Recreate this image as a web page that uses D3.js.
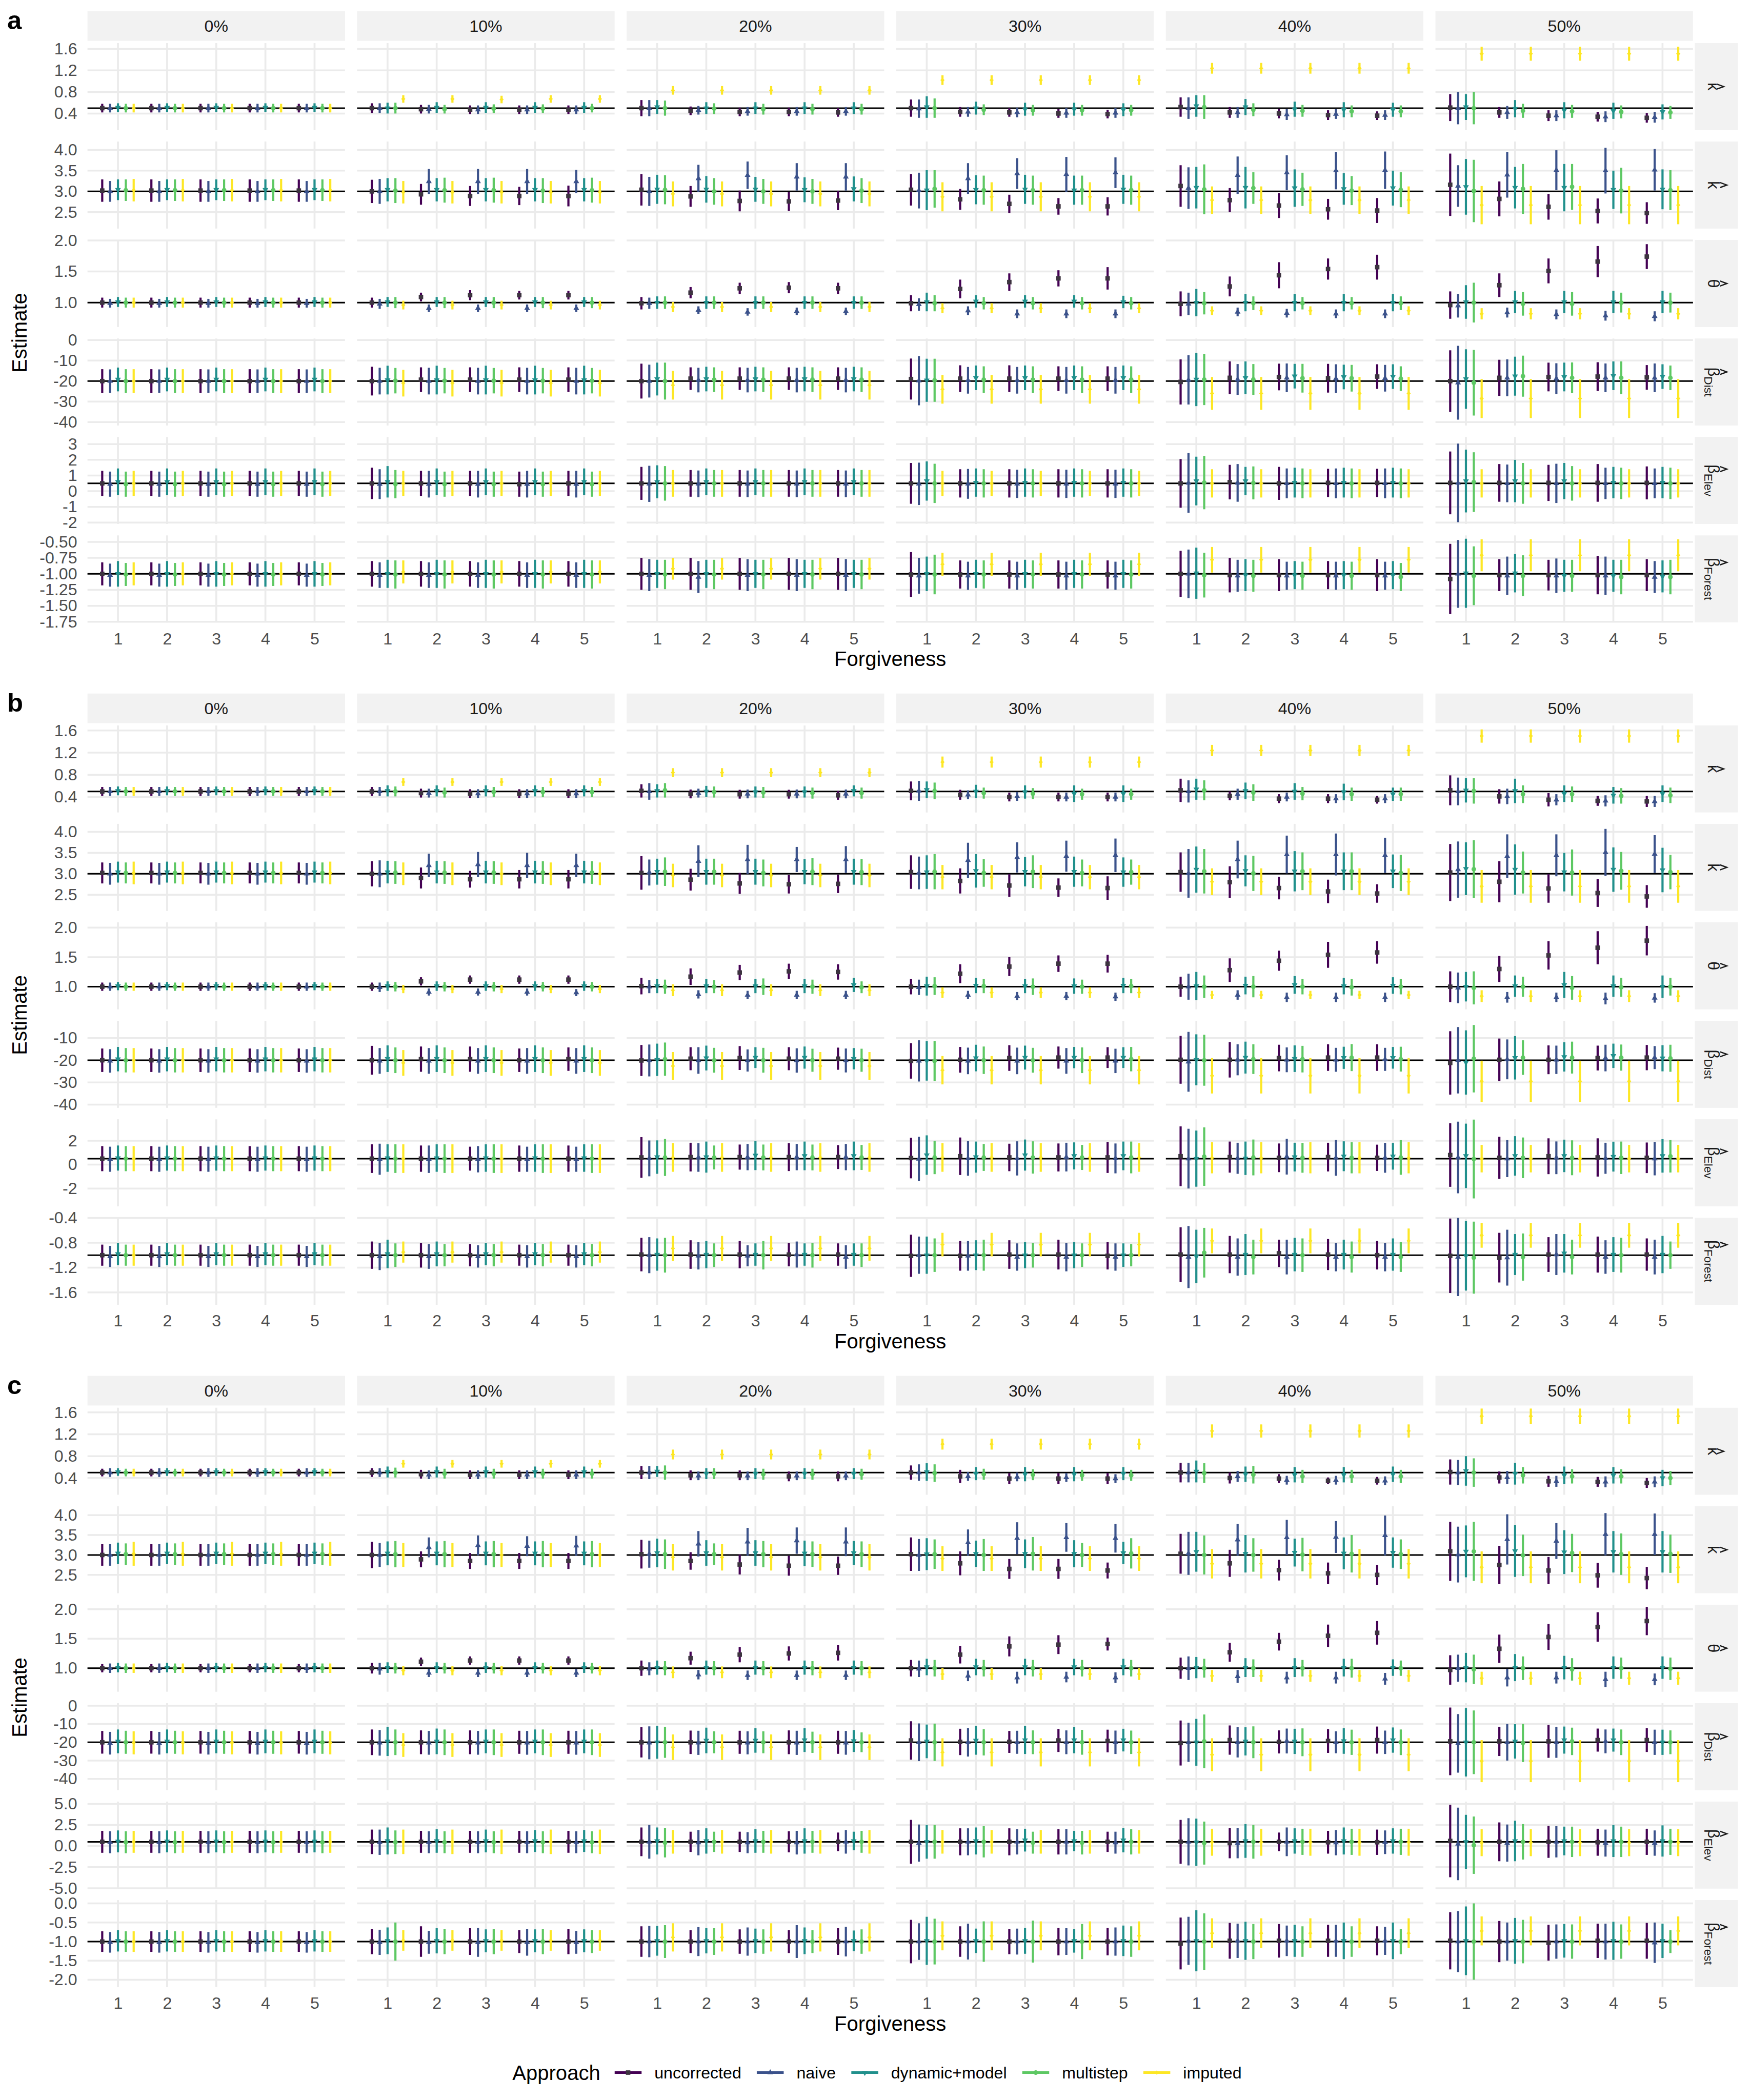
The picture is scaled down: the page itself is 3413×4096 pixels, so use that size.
<!DOCTYPE html>
<html>
<head>
<meta charset="utf-8">
<script src="https://cdn.jsdelivr.net/npm/d3@7"></script>
<style>
html,body{margin:0;padding:0;background:#ffffff;}
svg{display:block;}
</style>
</head>
<body>
<svg id="chart"></svg>
<script>
// ================= categories =================
const panelLabels = ["a", "b", "c"];
const missingLevels = ["0%", "10%", "20%", "30%", "40%", "50%"];
const forgivenessLevels = [1, 2, 3, 4, 5];
const approaches = ["uncorrected", "naive", "dynamic+model", "multistep", "imputed"];
const approachColors = ["#440154", "#3B528B", "#21908C", "#5DC863", "#FDE725"];
const paramSymbols = ["κ", "k", "θ", "β", "β", "β"];
const paramSubscripts = ["", "", "", "Dist", "Elev", "Forest"];
const trueValues = [0.5, 3, 1, -20, 0.5, -1];

// ================= axis limits and ticks (per panel, per parameter row) =================
const yLimits_a = [[0.092, 1.708], [2.106, 4.2], [0.607, 2.007], [-41.64, 0.77], [-2.086, 3.457], [-1.76, -0.399]];
const yLimits_b = [[0.121, 1.692], [2.115, 4.19], [0.616, 2.09], [-41.48, -2.2], [-3.49, 3.795], [-1.799, -0.397]];
const yLimits_c = [[0.094, 1.685], [2.04, 4.223], [0.601, 2.078], [-46.18, 1.4], [-5.05, 5.266], [-2.194, 0.088]];
const yTicks_a = [[0.4, 0.8, 1.2, 1.6], [2.5, 3, 3.5, 4], [1, 1.5, 2], [-40, -30, -20, -10, 0], [-2, -1, 0, 1, 2, 3], [-1.75, -1.5, -1.25, -1, -0.75, -0.5]];
const yTicks_b = [[0.4, 0.8, 1.2, 1.6], [2.5, 3, 3.5, 4], [1, 1.5, 2], [-40, -30, -20, -10], [-2, 0, 2], [-1.6, -1.2, -0.8, -0.4]];
const yTicks_c = [[0.4, 0.8, 1.2, 1.6], [2.5, 3, 3.5, 4], [1, 1.5, 2], [-40, -30, -20, -10, 0], [-5, -2.5, 0, 2.5, 5], [-2, -1.5, -1, -0.5, 0]];
const yTickLabels_a = [["0.4", "0.8", "1.2", "1.6"], ["2.5", "3.0", "3.5", "4.0"], ["1.0", "1.5", "2.0"], ["-40", "-30", "-20", "-10", "0"], ["-2", "-1", "0", "1", "2", "3"], ["-1.75", "-1.50", "-1.25", "-1.00", "-0.75", "-0.50"]];
const yTickLabels_b = [["0.4", "0.8", "1.2", "1.6"], ["2.5", "3.0", "3.5", "4.0"], ["1.0", "1.5", "2.0"], ["-40", "-30", "-20", "-10"], ["-2", "0", "2"], ["-1.6", "-1.2", "-0.8", "-0.4"]];
const yTickLabels_c = [["0.4", "0.8", "1.2", "1.6"], ["2.5", "3.0", "3.5", "4.0"], ["1.0", "1.5", "2.0"], ["-40", "-30", "-20", "-10", "0"], ["-5.0", "-2.5", "0.0", "2.5", "5.0"], ["-2.0", "-1.5", "-1.0", "-0.5", "0.0"]];

// ================= estimates / interval half-widths =================
// each: [approach][missing level 0..50%][forgiveness 1..5]
// ---------- panel a ----------
const a_kappa_est = [
[[0.5,0.5,0.5,0.5,0.5],[0.5,0.48,0.47,0.47,0.47],[0.5,0.45,0.43,0.43,0.42],[0.5,0.43,0.42,0.4,0.39],[0.52,0.42,0.4,0.37,0.36],[0.51,0.42,0.36,0.34,0.32]],
[[0.5,0.5,0.5,0.5,0.5],[0.5,0.48,0.47,0.47,0.47],[0.5,0.46,0.44,0.44,0.44],[0.49,0.43,0.42,0.41,0.41],[0.5,0.42,0.38,0.39,0.37],[0.5,0.42,0.36,0.34,0.33]],
[[0.51,0.51,0.51,0.51,0.51],[0.5,0.51,0.51,0.51,0.51],[0.52,0.5,0.5,0.5,0.5],[0.52,0.5,0.48,0.48,0.47],[0.54,0.52,0.48,0.47,0.47],[0.52,0.49,0.46,0.45,0.43]],
[[0.5,0.5,0.5,0.5,0.5],[0.5,0.48,0.49,0.49,0.5],[0.5,0.49,0.48,0.48,0.48],[0.5,0.47,0.46,0.46,0.46],[0.52,0.47,0.45,0.44,0.44],[0.5,0.45,0.44,0.43,0.42]],
[[0.5,0.5,0.5,0.5,0.5],[0.67,0.67,0.66,0.67,0.67],[0.83,0.83,0.83,0.83,0.83],[1.02,1.02,1.02,1.02,1.02],[1.24,1.24,1.24,1.24,1.24],[1.51,1.51,1.51,1.51,1.51]]];
const a_kappa_err = [
[[0.08,0.08,0.08,0.08,0.08],[0.09,0.08,0.08,0.08,0.08],[0.15,0.08,0.08,0.08,0.08],[0.16,0.09,0.08,0.08,0.08],[0.18,0.1,0.09,0.09,0.08],[0.25,0.1,0.1,0.09,0.09]],
[[0.08,0.08,0.08,0.08,0.08],[0.09,0.08,0.08,0.08,0.08],[0.15,0.08,0.08,0.08,0.08],[0.17,0.09,0.09,0.09,0.09],[0.2,0.1,0.1,0.09,0.09],[0.3,0.12,0.1,0.1,0.1]],
[[0.08,0.08,0.08,0.08,0.08],[0.1,0.1,0.1,0.1,0.1],[0.13,0.11,0.11,0.11,0.11],[0.2,0.12,0.12,0.12,0.12],[0.2,0.15,0.14,0.14,0.13],[0.24,0.16,0.15,0.15,0.14]],
[[0.08,0.08,0.08,0.08,0.08],[0.1,0.08,0.08,0.08,0.08],[0.14,0.1,0.1,0.1,0.1],[0.18,0.1,0.1,0.1,0.1],[0.22,0.12,0.11,0.11,0.11],[0.3,0.13,0.12,0.12,0.12]],
[[0.08,0.08,0.08,0.08,0.08],[0.07,0.07,0.07,0.07,0.07],[0.08,0.08,0.08,0.08,0.08],[0.09,0.09,0.09,0.09,0.09],[0.1,0.1,0.1,0.1,0.1],[0.13,0.13,0.13,0.13,0.13]]];
const a_k_est = [
[[3.02,3.02,3.02,3.02,3.02],[3,2.93,2.89,2.89,2.89],[3.04,2.88,2.77,2.76,2.78],[3.04,2.81,2.7,2.64,2.64],[3.13,2.79,2.66,2.57,2.54],[3.16,2.82,2.63,2.53,2.48]],
[[3,3,3,3,3],[3,3.24,3.24,3.24,3.24],[3,3.31,3.39,3.35,3.35],[3.02,3.31,3.43,3.41,3.45],[3.08,3.39,3.45,3.5,3.51],[3.13,3.4,3.51,3.5,3.52]],
[[3.04,3.04,3.04,3.04,3.04],[3.04,3.04,3.04,3.04,3.04],[3.05,3.05,3.05,3.04,3.06],[3.03,3.04,3.05,3.03,3.05],[3.09,3.09,3.08,3.06,3.08],[3.11,3.09,3.09,3.04,3.05]],
[[3.03,3.03,3.03,3.03,3.03],[3.02,3.03,3.03,3.02,3.03],[3.04,3,3,3,3.02],[3.06,3.03,3.03,3.03,3.03],[3.05,3.08,3.05,3.02,3.04],[3.01,3.06,3.11,3.02,3.03]],
[[3.03,3.03,3.03,3.03,3.03],[2.98,2.98,2.98,2.98,2.98],[2.94,2.94,2.94,2.94,2.94],[2.87,2.87,2.87,2.87,2.87],[2.79,2.79,2.79,2.79,2.79],[2.67,2.67,2.67,2.67,2.67]]];
const a_k_err = [
[[0.27,0.27,0.27,0.27,0.27],[0.28,0.25,0.24,0.22,0.25],[0.38,0.25,0.25,0.23,0.23],[0.38,0.25,0.22,0.2,0.22],[0.5,0.29,0.3,0.25,0.3],[0.75,0.42,0.31,0.3,0.26]],
[[0.25,0.25,0.25,0.25,0.25],[0.3,0.3,0.3,0.3,0.28],[0.35,0.33,0.33,0.33,0.33],[0.43,0.37,0.37,0.42,0.37],[0.5,0.45,0.42,0.45,0.45],[0.5,0.55,0.48,0.55,0.5]],
[[0.25,0.25,0.25,0.25,0.25],[0.28,0.28,0.28,0.28,0.28],[0.35,0.32,0.3,0.3,0.3],[0.48,0.35,0.35,0.35,0.35],[0.5,0.5,0.45,0.38,0.42],[0.67,0.5,0.57,0.46,0.48]],
[[0.26,0.26,0.26,0.26,0.26],[0.3,0.3,0.3,0.3,0.3],[0.35,0.32,0.3,0.3,0.3],[0.45,0.35,0.35,0.35,0.35],[0.6,0.38,0.4,0.35,0.42],[0.75,0.6,0.55,0.55,0.48]],
[[0.27,0.27,0.27,0.27,0.27],[0.27,0.27,0.27,0.27,0.27],[0.3,0.3,0.3,0.3,0.3],[0.35,0.35,0.35,0.35,0.35],[0.33,0.33,0.33,0.33,0.33],[0.46,0.46,0.46,0.46,0.46]]];
const a_theta_est = [
[[1,1,1,1,1],[1,1.09,1.12,1.12,1.12],[0.99,1.16,1.23,1.24,1.23],[0.99,1.22,1.33,1.39,1.39],[0.98,1.26,1.44,1.54,1.57],[0.96,1.28,1.51,1.66,1.74]],
[[0.99,0.99,0.99,0.99,0.99],[0.98,0.91,0.91,0.91,0.91],[0.99,0.88,0.85,0.86,0.86],[0.97,0.87,0.82,0.82,0.82],[0.98,0.85,0.83,0.82,0.82],[0.95,0.84,0.81,0.79,0.78]],
[[1.01,1.01,1.01,1.01,1.01],[1.01,1.01,1.01,1.01,1.01],[1,1,1,1,1],[1.01,1.02,1.02,1.02,1.01],[1,1,1,1,1],[1.01,1.01,1.01,1.01,1.01]],
[[1,1,1,1,1],[1,1,1,1,1],[1,1,1,1,1],[0.99,0.99,0.99,0.99,0.99],[0.99,0.99,0.99,0.99,0.99],[1,0.98,0.98,1,1]],
[[1,1,1,1,1],[0.96,0.96,0.96,0.96,0.96],[0.93,0.93,0.93,0.93,0.93],[0.91,0.91,0.91,0.91,0.91],[0.87,0.87,0.87,0.87,0.87],[0.82,0.82,0.82,0.82,0.82]]];
const a_theta_err = [
[[0.08,0.08,0.08,0.08,0.08],[0.08,0.07,0.08,0.07,0.07],[0.1,0.09,0.09,0.09,0.09],[0.13,0.15,0.14,0.13,0.18],[0.2,0.16,0.21,0.17,0.2],[0.22,0.19,0.2,0.25,0.2]],
[[0.07,0.07,0.07,0.07,0.07],[0.08,0.06,0.06,0.06,0.06],[0.09,0.06,0.06,0.06,0.06],[0.1,0.07,0.07,0.07,0.07],[0.18,0.07,0.07,0.07,0.07],[0.19,0.08,0.08,0.08,0.08]],
[[0.08,0.08,0.08,0.08,0.08],[0.08,0.08,0.08,0.08,0.08],[0.1,0.1,0.1,0.1,0.1],[0.15,0.1,0.1,0.1,0.1],[0.22,0.14,0.14,0.14,0.14],[0.27,0.18,0.18,0.18,0.18]],
[[0.08,0.08,0.08,0.08,0.08],[0.09,0.09,0.09,0.09,0.09],[0.1,0.1,0.1,0.1,0.1],[0.13,0.1,0.1,0.1,0.1],[0.18,0.11,0.1,0.1,0.11],[0.32,0.19,0.19,0.16,0.16]],
[[0.08,0.08,0.08,0.08,0.08],[0.07,0.07,0.07,0.07,0.07],[0.08,0.08,0.08,0.08,0.08],[0.08,0.08,0.08,0.08,0.08],[0.07,0.07,0.07,0.07,0.07],[0.09,0.09,0.09,0.09,0.09]]];
const a_dist_est = [
[[-20,-20,-20,-20,-20],[-20,-19.3,-19.3,-19.3,-19.3],[-20,-18.8,-18.8,-18.8,-18.8],[-19,-18.8,-18.8,-18.8,-18.8],[-20.4,-18.4,-18,-18.6,-17.8],[-20,-18.4,-18,-17.8,-18.2]],
[[-20,-20,-20,-20,-20],[-20,-20,-20,-20,-20],[-20,-19.5,-19.5,-19.5,-19.5],[-19.8,-19.6,-19.6,-19.6,-19.6],[-19.4,-19.2,-18.4,-18.8,-18.6],[-20.8,-18.4,-18.8,-18.4,-18.4]],
[[-19.2,-19.2,-19.2,-19.2,-19.2],[-19.5,-19.5,-19.5,-19.5,-19.5],[-19,-19,-19,-19,-19],[-19.6,-18.4,-18.4,-18.4,-18.4],[-19.2,-18.4,-17.6,-18,-17.8],[-19,-17.6,-18,-17.4,-17.8]],
[[-20,-20,-20,-20,-20],[-19.8,-19.8,-19.8,-19.8,-19.8],[-20,-19.3,-19.3,-19.3,-19.3],[-19.6,-19.3,-19.3,-19.3,-19.3],[-19.2,-19.2,-18.6,-18.6,-18.8],[-20.8,-17.6,-18.4,-18.4,-18.4]],
[[-20,-20,-20,-20,-20],[-21,-21,-21,-21,-21],[-22,-22,-22,-22,-22],[-24,-24,-24,-24,-24],[-26,-26,-26,-26,-26],[-28.5,-28.5,-28.5,-28.5,-28.5]]];
const a_dist_err = [
[[5.8,5.8,5.8,5.8,5.8],[7,6,6,6,6],[8.5,5.5,5.5,5.5,5.5],[10,6.5,6.5,6,6],[11,8,6.5,7,6],[15,8.8,7,7,6]],
[[5.7,5.7,5.7,5.7,5.7],[6.5,6.5,6.5,6.5,6.5],[8,6,6,6,6],[12,6.5,6.5,6.5,6.5],[12,7.5,7,7,6.5],[18,9,7.5,7,7]],
[[5.8,5.8,5.8,5.8,5.8],[7,7,7,7,7],[8,6,6,6,6],[10.5,6,6,6,6],[13,8,6,6,6],[14.5,9.5,7,7,6]],
[[5.8,5.8,5.8,5.8,5.8],[6.2,6.2,6.2,6.2,6.2],[9,6,6,6,6],[10.5,6.5,6.5,6.5,6.5],[12.5,7.5,7,6.5,6],[16,10,7.5,8,6]],
[[5.8,5.8,5.8,5.8,5.8],[6.5,6.5,6.5,6.5,6.5],[7,7,7,7,7],[7,7,7,7,7],[8,8,8,8,8],[9.5,9.5,9.5,9.5,9.5]]];
const a_elev_est = [
[[0.5,0.5,0.5,0.5,0.5],[0.5,0.5,0.5,0.45,0.5],[0.5,0.5,0.5,0.5,0.5],[0.5,0.5,0.5,0.5,0.5],[0.5,0.58,0.5,0.53,0.53],[0.53,0.53,0.53,0.53,0.53]],
[[0.45,0.45,0.45,0.45,0.45],[0.45,0.45,0.45,0.45,0.45],[0.47,0.47,0.47,0.47,0.47],[0.47,0.47,0.47,0.47,0.47],[0.53,0.53,0.5,0.5,0.5],[0.53,0.5,0.5,0.5,0.5]],
[[0.6,0.6,0.6,0.6,0.6],[0.6,0.6,0.6,0.6,0.6],[0.6,0.6,0.6,0.6,0.6],[0.65,0.55,0.55,0.55,0.55],[0.65,0.65,0.55,0.55,0.55],[0.65,0.65,0.65,0.55,0.55]],
[[0.45,0.45,0.45,0.45,0.45],[0.45,0.45,0.45,0.45,0.45],[0.5,0.5,0.5,0.5,0.5],[0.5,0.5,0.5,0.5,0.5],[0.55,0.53,0.5,0.5,0.5],[0.58,0.5,0.5,0.5,0.5]],
[[0.5,0.5,0.5,0.5,0.5],[0.5,0.5,0.5,0.5,0.5],[0.5,0.5,0.5,0.5,0.5],[0.5,0.5,0.5,0.5,0.5],[0.5,0.5,0.5,0.5,0.5],[0.5,0.5,0.5,0.5,0.5]]];
const a_elev_err = [
[[0.8,0.8,0.8,0.8,0.8],[1,0.8,0.8,0.8,0.8],[1.05,0.85,0.85,0.85,0.85],[1.3,0.9,0.9,0.9,0.9],[1.55,1.1,1.05,0.9,0.9],[2,1.2,1.15,1.2,1.05]],
[[0.8,0.8,0.8,0.8,0.8],[0.95,0.85,0.85,0.85,0.85],[1.15,0.85,0.85,0.85,0.85],[1.35,0.95,0.9,0.9,0.9],[1.9,1.2,0.95,0.95,0.95],[2.5,1.2,1.25,1,0.95]],
[[0.85,0.85,0.85,0.85,0.85],[1,0.85,0.85,0.85,0.85],[1.05,0.85,0.85,0.85,0.85],[1.25,0.9,0.9,0.9,0.9],[1.55,0.9,0.95,0.95,0.95],[2,1.35,1.15,1,1]],
[[0.8,0.8,0.8,0.8,0.8],[0.9,0.8,0.8,0.8,0.8],[1.1,0.85,0.85,0.85,0.85],[1.25,0.9,0.9,0.9,0.9],[1.7,1.05,0.95,0.95,0.95],[1.9,1.3,1.1,1,1]],
[[0.8,0.8,0.8,0.8,0.8],[0.8,0.8,0.8,0.8,0.8],[0.85,0.85,0.85,0.85,0.85],[0.8,0.8,0.8,0.8,0.8],[0.9,0.9,0.9,0.9,0.9],[0.9,0.9,0.9,0.9,0.9]]];
const a_forest_est = [
[[-1,-1,-1,-1,-1],[-1,-1,-1,-1,-1],[-1,-1,-1,-1,-1],[-1.01,-1.01,-1.01,-1.01,-1.01],[-1,-1.02,-1.02,-1.02,-1.02],[-1.08,-1.02,-1.02,-1.02,-1.02]],
[[-1.02,-1.02,-1.02,-1.02,-1.02],[-1.02,-1.02,-1.02,-1.02,-1.02],[-1.02,-1.05,-1.02,-1.02,-1.02],[-1.03,-1.03,-1.03,-1.03,-1.03],[-1,-1.03,-1.03,-1.03,-1.03],[-1,-1.03,-1.03,-1.03,-1.05]],
[[-1,-1,-1,-1,-1],[-1,-1,-1,-1,-1],[-1,-1,-1,-1,-1],[-1,-1,-1,-1,-1],[-0.99,-1.02,-1.02,-1.02,-1.02],[-0.99,-0.99,-1.03,-1.03,-1.04]],
[[-1.01,-1.01,-1.01,-1.01,-1.01],[-1.01,-1.01,-1.01,-1.01,-1.01],[-1.01,-1.01,-1.01,-1.01,-1.01],[-1.01,-1.01,-1.01,-1.01,-1.01],[-1.02,-1.03,-1.03,-1.03,-1.05],[-1.03,-1.03,-1.03,-1.05,-1.05]],
[[-1,-1,-1,-1,-1],[-0.97,-0.97,-0.97,-0.97,-0.97],[-0.92,-0.92,-0.92,-0.92,-0.92],[-0.85,-0.85,-0.85,-0.85,-0.85],[-0.78,-0.78,-0.78,-0.78,-0.78],[-0.71,-0.71,-0.71,-0.71,-0.71]]];
const a_forest_err = [
[[0.18,0.18,0.18,0.18,0.18],[0.2,0.2,0.2,0.2,0.2],[0.25,0.25,0.25,0.25,0.25],[0.35,0.22,0.22,0.22,0.22],[0.36,0.27,0.25,0.22,0.25],[0.55,0.25,0.24,0.3,0.25]],
[[0.18,0.18,0.18,0.18,0.18],[0.2,0.2,0.2,0.2,0.2],[0.25,0.25,0.25,0.25,0.25],[0.28,0.22,0.22,0.22,0.22],[0.38,0.25,0.22,0.22,0.22],[0.53,0.3,0.27,0.3,0.25]],
[[0.2,0.2,0.2,0.2,0.2],[0.22,0.22,0.22,0.22,0.22],[0.22,0.22,0.22,0.22,0.22],[0.27,0.22,0.22,0.22,0.22],[0.4,0.25,0.22,0.22,0.22],[0.54,0.3,0.25,0.25,0.25]],
[[0.18,0.18,0.18,0.18,0.18],[0.22,0.22,0.22,0.22,0.22],[0.23,0.23,0.23,0.23,0.23],[0.31,0.22,0.22,0.22,0.22],[0.35,0.25,0.22,0.22,0.22],[0.46,0.32,0.25,0.27,0.27]],
[[0.18,0.18,0.18,0.18,0.18],[0.18,0.18,0.18,0.18,0.18],[0.17,0.17,0.17,0.17,0.17],[0.18,0.18,0.18,0.18,0.18],[0.2,0.2,0.2,0.2,0.2],[0.25,0.25,0.25,0.25,0.25]]];

// ---------- panel b ----------
const b_kappa_est = [
[[0.5,0.5,0.5,0.5,0.5],[0.5,0.47,0.46,0.46,0.46],[0.51,0.455,0.45,0.45,0.43],[0.51,0.44,0.4,0.4,0.4],[0.52,0.42,0.37,0.37,0.35],[0.52,0.41,0.35,0.33,0.32]],
[[0.5,0.5,0.5,0.5,0.5],[0.5,0.47,0.46,0.46,0.46],[0.5,0.47,0.455,0.455,0.455],[0.51,0.44,0.41,0.4,0.4],[0.5,0.45,0.4,0.37,0.37],[0.5,0.41,0.35,0.33,0.32]],
[[0.51,0.51,0.51,0.51,0.51],[0.51,0.51,0.51,0.51,0.51],[0.51,0.5,0.49,0.49,0.51],[0.53,0.5,0.49,0.46,0.46],[0.54,0.51,0.5,0.49,0.45],[0.52,0.51,0.46,0.43,0.46]],
[[0.5,0.5,0.5,0.5,0.5],[0.5,0.48,0.49,0.49,0.49],[0.52,0.49,0.48,0.47,0.47],[0.51,0.47,0.46,0.45,0.45],[0.52,0.48,0.46,0.45,0.45],[0.51,0.45,0.45,0.42,0.43]],
[[0.5,0.5,0.5,0.5,0.5],[0.67,0.67,0.67,0.67,0.67],[0.84,0.84,0.84,0.84,0.84],[1.03,1.03,1.03,1.03,1.03],[1.24,1.24,1.24,1.24,1.24],[1.5,1.5,1.5,1.5,1.5]]];
const b_kappa_err = [
[[0.08,0.08,0.08,0.08,0.08],[0.08,0.08,0.08,0.08,0.08],[0.12,0.08,0.08,0.08,0.08],[0.17,0.09,0.08,0.08,0.08],[0.21,0.08,0.08,0.08,0.07],[0.27,0.13,0.12,0.09,0.1]],
[[0.08,0.08,0.08,0.08,0.08],[0.08,0.08,0.08,0.08,0.08],[0.15,0.08,0.08,0.08,0.08],[0.18,0.08,0.08,0.08,0.08],[0.2,0.1,0.08,0.08,0.08],[0.25,0.14,0.1,0.1,0.1]],
[[0.08,0.08,0.08,0.08,0.08],[0.1,0.1,0.1,0.1,0.1],[0.12,0.1,0.1,0.1,0.1],[0.15,0.12,0.12,0.15,0.15],[0.19,0.15,0.15,0.15,0.12],[0.22,0.22,0.15,0.15,0.15]],
[[0.08,0.08,0.08,0.08,0.08],[0.09,0.09,0.09,0.09,0.09],[0.13,0.1,0.1,0.1,0.1],[0.15,0.1,0.1,0.1,0.1],[0.18,0.15,0.12,0.12,0.12],[0.23,0.16,0.14,0.14,0.14]],
[[0.08,0.08,0.08,0.08,0.08],[0.07,0.07,0.07,0.07,0.07],[0.08,0.08,0.08,0.08,0.08],[0.1,0.1,0.1,0.1,0.1],[0.1,0.1,0.1,0.1,0.1],[0.12,0.12,0.12,0.12,0.12]]];
const b_k_est = [
[[3.02,3.02,3.02,3.02,3.02],[3,2.9,2.87,2.87,2.87],[3.02,2.86,2.77,2.75,2.76],[3.04,2.83,2.72,2.67,2.66],[3.04,2.8,2.66,2.58,2.53],[3.03,2.81,2.65,2.54,2.46]],
[[3,3,3,3,3],[3,3.2,3.22,3.2,3.2],[3.03,3.3,3.34,3.34,3.34],[3.02,3.32,3.39,3.42,3.44],[3.01,3.34,3.46,3.46,3.44],[3.1,3.42,3.44,3.51,3.47]],
[[3.04,3.04,3.04,3.04,3.04],[3.04,3.04,3.04,3.04,3.04],[3.05,3.05,3.05,3.05,3.05],[3.04,3.07,3.05,3.05,3.04],[3.1,3.07,3.06,3.06,3.06],[3.12,3.1,3.04,3.1,3.09]],
[[3.02,3.02,3.02,3.02,3.02],[3.03,3.03,3.03,3.03,3.03],[3.05,3.05,3.02,3.05,3.04],[3.05,3.02,3.05,3.02,3.04],[3.06,3.01,3.06,3.06,3.02],[3.11,3.03,3.03,3.07,3.04]],
[[3.02,3.02,3.02,3.02,3.02],[3,3,3,3,3],[2.96,2.96,2.96,2.96,2.96],[2.92,2.92,2.92,2.92,2.92],[2.81,2.81,2.81,2.81,2.81],[2.7,2.7,2.7,2.7,2.7]]];
const b_k_err = [
[[0.25,0.25,0.25,0.25,0.25],[0.3,0.25,0.2,0.22,0.22],[0.4,0.26,0.25,0.22,0.22],[0.4,0.3,0.27,0.22,0.28],[0.47,0.38,0.27,0.28,0.22],[0.68,0.49,0.34,0.33,0.27]],
[[0.26,0.26,0.26,0.26,0.26],[0.32,0.28,0.3,0.3,0.28],[0.31,0.38,0.35,0.3,0.32],[0.39,0.42,0.36,0.37,0.4],[0.58,0.45,0.45,0.5,0.42],[0.67,0.52,0.5,0.56,0.45]],
[[0.25,0.25,0.25,0.25,0.25],[0.27,0.27,0.27,0.27,0.27],[0.31,0.31,0.31,0.3,0.31],[0.4,0.4,0.35,0.36,0.35],[0.55,0.37,0.48,0.45,0.4],[0.63,0.6,0.46,0.53,0.53]],
[[0.25,0.25,0.25,0.25,0.25],[0.27,0.27,0.27,0.27,0.27],[0.34,0.31,0.32,0.32,0.31],[0.42,0.33,0.39,0.32,0.3],[0.53,0.42,0.45,0.45,0.43],[0.69,0.5,0.55,0.45,0.41]],
[[0.27,0.27,0.27,0.27,0.27],[0.27,0.27,0.27,0.27,0.27],[0.28,0.28,0.28,0.28,0.28],[0.29,0.29,0.29,0.29,0.29],[0.32,0.32,0.32,0.32,0.32],[0.39,0.39,0.39,0.39,0.39]]];
const b_theta_est = [
[[1,1,1,1,1],[1,1.09,1.12,1.12,1.12],[1.01,1.17,1.24,1.26,1.25],[1,1.22,1.34,1.39,1.39],[1,1.28,1.44,1.54,1.58],[1,1.3,1.53,1.66,1.78]],
[[1,1,1,1,1],[0.99,0.91,0.91,0.91,0.9],[1,0.87,0.86,0.86,0.86],[0.99,0.86,0.84,0.84,0.83],[1,0.86,0.82,0.82,0.82],[0.98,0.82,0.82,0.8,0.81]],
[[1.01,1.01,1.01,1.01,1.01],[1.01,1.01,1.01,1.01,1.01],[1.01,1.01,1.01,1.01,1.03],[1.01,1.02,1.01,1.01,1.02],[1.01,1.02,1.03,1.01,1.02],[1,1.01,1.03,1.01,1]],
[[1,1,1,1,1],[1,1,1,1,1],[1,1,1,1,0.99],[1.01,1.01,1,1,1.01],[1,1,1,0.99,1],[0.98,1,0.98,0.99,1]],
[[1,1,1,1,1],[0.96,0.96,0.96,0.96,0.96],[0.94,0.94,0.94,0.94,0.94],[0.9,0.9,0.9,0.9,0.9],[0.86,0.86,0.86,0.86,0.86],[0.84,0.84,0.84,0.84,0.84]]];
const b_theta_err = [
[[0.07,0.07,0.07,0.07,0.07],[0.07,0.07,0.07,0.07,0.07],[0.14,0.14,0.13,0.13,0.13],[0.13,0.16,0.16,0.14,0.15],[0.17,0.2,0.17,0.22,0.19],[0.26,0.22,0.24,0.28,0.25]],
[[0.07,0.07,0.07,0.07,0.07],[0.08,0.06,0.06,0.06,0.06],[0.11,0.07,0.07,0.07,0.07],[0.13,0.07,0.07,0.07,0.07],[0.22,0.08,0.08,0.08,0.08],[0.26,0.09,0.08,0.1,0.08]],
[[0.07,0.07,0.07,0.07,0.07],[0.08,0.08,0.08,0.08,0.08],[0.12,0.12,0.12,0.12,0.12],[0.16,0.13,0.12,0.13,0.13],[0.24,0.15,0.15,0.14,0.14],[0.25,0.18,0.22,0.18,0.19]],
[[0.07,0.07,0.07,0.07,0.07],[0.08,0.08,0.08,0.08,0.08],[0.12,0.11,0.14,0.12,0.1],[0.15,0.12,0.14,0.12,0.12],[0.19,0.18,0.13,0.14,0.13],[0.28,0.17,0.2,0.16,0.15]],
[[0.07,0.07,0.07,0.07,0.07],[0.07,0.07,0.07,0.07,0.07],[0.1,0.1,0.1,0.1,0.1],[0.09,0.09,0.09,0.09,0.09],[0.07,0.07,0.07,0.07,0.07],[0.1,0.1,0.1,0.1,0.1]]];
const b_dist_est = [
[[-20,-20,-20,-20,-20],[-20,-19.5,-19.5,-20,-19.5],[-20.1,-19.3,-19,-19.3,-19.3],[-20.3,-19.8,-19,-18.8,-18.8],[-19.8,-19.8,-19,-18.8,-18.8],[-21.2,-19.8,-19.8,-19,-18.8]],
[[-20.3,-20.3,-20.3,-20.3,-20.3],[-20.3,-20.3,-20.3,-20.3,-20.3],[-20.1,-20.1,-20.1,-20.1,-20.1],[-20.3,-20.3,-20.3,-20.3,-20.3],[-20.7,-19.8,-19.8,-19.8,-19.6],[-20,-19.6,-19.8,-19,-18.8]],
[[-19.5,-19.5,-19.5,-19.5,-19.5],[-19.3,-19.3,-19.3,-19.3,-19.3],[-19.8,-19,-18.8,-18.8,-19.3],[-20.3,-19,-18.8,-18.8,-18.8],[-19.8,-18.8,-19.3,-18.9,-18.9],[-21,-18.9,-18.5,-18,-19.1]],
[[-20,-20,-20,-20,-20],[-20,-20,-20,-20,-20],[-19.5,-20,-20,-20,-20],[-20.3,-20,-20,-20,-19.5],[-20,-19.5,-19.5,-18.8,-19.5],[-19.3,-18.8,-18.8,-18.8,-19.1]],
[[-20,-20,-20,-20,-20],[-21.2,-21.2,-21.2,-21.2,-21.2],[-22.6,-22.6,-22.6,-22.6,-22.6],[-24.5,-24.5,-24.5,-24.5,-24.5],[-27,-27,-27,-27,-27],[-29.5,-29.5,-29.5,-29.5,-29.5]]];
const b_dist_err = [
[[5.3,5.3,5.3,5.3,5.3],[6.5,5.7,5.7,5.3,5.3],[7,5.2,5.4,5.2,5],[8,5.8,5.8,5,4.7],[10.8,8,6,6,6],[14.3,9.6,6.5,5.6,5.7]],
[[5.3,5.3,5.3,5.3,5.3],[5.8,5.8,5.8,5.8,5.8],[7.2,6,5,5.5,5.4],[9.3,6,6,5.8,5.5],[13.5,7,5.6,5.4,5.2],[15,9,6.4,6,5.2]],
[[5.5,5.5,5.5,5.5,5.5],[6,6,6,6,6],[7.3,5.6,4.7,5,4.8],[8.9,6,5.4,4.8,4.7],[11.5,7.2,6,5,4.9],[14.5,9.8,6.6,5.5,5.9]],
[[5.5,5.5,5.5,5.5,5.5],[5.8,5.8,5.8,5.8,5.8],[7.5,5.6,5.6,5.2,5.2],[9,6.2,5.6,5.8,5.5],[11.5,6.7,6,6.1,5.6],[15.2,7.8,7.2,5.9,6.1]],
[[5.5,5.5,5.5,5.5,5.5],[5.8,5.8,5.8,5.8,5.8],[6.3,6.3,6.3,6.3,6.3],[6.4,6.4,6.4,6.4,6.4],[8,8,8,8,8],[9.3,9.3,9.3,9.3,9.3]]];
const b_elev_est = [
[[0.5,0.5,0.5,0.5,0.5],[0.5,0.5,0.5,0.5,0.5],[0.6,0.63,0.63,0.63,0.63],[0.55,0.7,0.6,0.6,0.6],[0.7,0.63,0.57,0.63,0.57],[0.8,0.57,0.7,0.6,0.57]],
[[0.45,0.45,0.45,0.45,0.45],[0.45,0.45,0.45,0.45,0.45],[0.52,0.6,0.63,0.63,0.63],[0.48,0.52,0.52,0.63,0.52],[0.5,0.53,0.67,0.57,0.57],[0.6,0.5,0.57,0.53,0.5]],
[[0.55,0.55,0.55,0.55,0.55],[0.55,0.55,0.55,0.55,0.55],[0.63,0.63,0.77,0.73,0.73],[0.8,0.63,0.8,0.73,0.73],[0.5,0.53,0.63,0.7,0.7],[0.73,0.73,0.73,0.67,0.73]],
[[0.5,0.5,0.5,0.5,0.5],[0.5,0.5,0.5,0.5,0.5],[0.6,0.6,0.6,0.6,0.6],[0.6,0.6,0.6,0.6,0.6],[0.67,0.6,0.57,0.57,0.6],[0.47,0.57,0.57,0.57,0.7]],
[[0.5,0.5,0.5,0.5,0.5],[0.5,0.5,0.5,0.5,0.5],[0.6,0.6,0.6,0.6,0.6],[0.6,0.6,0.6,0.6,0.6],[0.57,0.57,0.57,0.57,0.57],[0.5,0.5,0.5,0.5,0.5]]];
const b_elev_err = [
[[1.05,1.05,1.05,1.05,1.05],[1.2,1.1,1,1.1,1.1],[1.7,1.2,1.05,1.17,1],[1.7,1.57,1.15,1.17,1.3],[2.5,1.3,1.2,1.2,1.1],[2.66,1.76,1.5,1.6,1.28]],
[[1.05,1.05,1.05,1.05,1.05],[1.3,1.15,1.1,1.05,1.05],[1.5,1.2,1.1,1.1,1.1],[1.85,1.45,1.43,1.2,1.25],[2.5,1.3,1.5,1.5,1.25],[3,1.55,1.37,1.3,1.4]],
[[1.05,1.05,1.05,1.05,1.05],[1.15,1.15,1.15,1.15,1.15],[1.4,1.3,1.23,1.2,1.2],[1.65,1.3,1.3,1.13,1.2],[2.35,1.4,1.2,1.25,1.12],[2.7,1.65,1.36,1.25,1.4]],
[[1.05,1.05,1.05,1.05,1.05],[1.2,1.2,1.2,1.2,1.2],[1.55,1,1.08,1.08,1.05],[1.4,1.13,1.35,1.05,1.33],[2.45,1.5,1.25,1.3,1.45],[3.3,1.7,1.46,1.36,1.36]],
[[1.05,1.05,1.05,1.05,1.05],[1.2,1.2,1.2,1.2,1.2],[1.2,1.2,1.2,1.2,1.2],[1.2,1.2,1.2,1.2,1.2],[1.3,1.3,1.3,1.3,1.3],[1.15,1.15,1.15,1.15,1.15]]];
const b_forest_est = [
[[-1,-1,-1,-1,-1],[-1,-1,-1,-1,-1],[-0.99,-0.99,-0.99,-0.99,-0.99],[-1.01,-1.01,-0.99,-0.99,-1.01],[-0.99,-0.99,-0.97,-0.99,-1],[-1.01,-1.04,-0.99,-0.99,-0.99]],
[[-1.02,-1.02,-1.02,-1.02,-1.02],[-1.02,-1.02,-1.02,-1.02,-1.02],[-1,-1.01,-1.01,-0.99,-1.03],[-1,-1.01,-1.03,-1.03,-1.03],[-1.03,-1.03,-1.03,-1.03,-1.03],[-1.03,-1.04,-0.99,-1.03,-1.03]],
[[-0.98,-0.98,-0.98,-0.98,-0.98],[-0.98,-0.98,-0.98,-0.98,-0.98],[-0.99,-0.99,-0.99,-0.99,-0.99],[-1,-1,-1,-1,-1],[-1.02,-0.99,-0.99,-0.99,-0.99],[-1.01,-0.99,-0.97,-0.99,-0.99]],
[[-1,-1,-1,-1,-1],[-1,-1,-1,-1,-1],[-1,-1,-1,-1,-1],[-1,-1,-1,-1,-1],[-0.96,-1.03,-1,-1.03,-1.03],[-1.04,-1.03,-1.03,-1,-1]],
[[-1,-1,-1,-1,-1],[-0.95,-0.95,-0.95,-0.95,-0.95],[-0.89,-0.89,-0.89,-0.89,-0.89],[-0.83,-0.83,-0.83,-0.83,-0.83],[-0.77,-0.77,-0.77,-0.77,-0.77],[-0.68,-0.68,-0.68,-0.68,-0.68]]];
const b_forest_err = [
[[0.17,0.17,0.17,0.17,0.17],[0.22,0.2,0.18,0.17,0.17],[0.27,0.23,0.22,0.19,0.18],[0.34,0.24,0.23,0.24,0.22],[0.44,0.3,0.22,0.25,0.23],[0.6,0.4,0.28,0.29,0.26]],
[[0.17,0.17,0.17,0.17,0.17],[0.22,0.2,0.18,0.18,0.18],[0.29,0.22,0.17,0.21,0.19],[0.3,0.24,0.22,0.23,0.22],[0.5,0.3,0.28,0.23,0.23],[0.63,0.45,0.33,0.27,0.28]],
[[0.18,0.18,0.18,0.18,0.18],[0.23,0.2,0.18,0.18,0.18],[0.26,0.22,0.18,0.18,0.18],[0.3,0.24,0.21,0.21,0.19],[0.43,0.33,0.27,0.24,0.26],[0.56,0.33,0.31,0.28,0.3]],
[[0.17,0.17,0.17,0.17,0.17],[0.19,0.18,0.18,0.18,0.18],[0.28,0.19,0.23,0.2,0.19],[0.27,0.25,0.2,0.19,0.18],[0.4,0.28,0.27,0.25,0.24],[0.58,0.38,0.28,0.28,0.22]],
[[0.17,0.17,0.17,0.17,0.17],[0.17,0.17,0.17,0.17,0.17],[0.2,0.2,0.2,0.2,0.2],[0.19,0.19,0.19,0.19,0.19],[0.2,0.2,0.2,0.2,0.2],[0.2,0.2,0.2,0.2,0.2]]];

// ---------- panel c ----------
const c_kappa_est = [
[[0.5,0.5,0.5,0.5,0.5],[0.5,0.47,0.46,0.46,0.46],[0.5,0.45,0.45,0.43,0.43],[0.5,0.43,0.39,0.39,0.39],[0.5,0.4,0.39,0.35,0.35],[0.51,0.41,0.34,0.33,0.31]],
[[0.5,0.5,0.5,0.5,0.5],[0.5,0.46,0.46,0.46,0.46],[0.5,0.44,0.44,0.44,0.44],[0.5,0.43,0.42,0.41,0.39],[0.5,0.43,0.36,0.36,0.35],[0.5,0.41,0.34,0.33,0.33]],
[[0.51,0.51,0.51,0.51,0.51],[0.51,0.51,0.51,0.51,0.51],[0.52,0.48,0.48,0.48,0.48],[0.51,0.48,0.47,0.47,0.48],[0.52,0.47,0.46,0.46,0.47],[0.53,0.48,0.45,0.45,0.4]],
[[0.5,0.5,0.5,0.5,0.5],[0.5,0.48,0.48,0.48,0.48],[0.5,0.48,0.47,0.47,0.47],[0.49,0.47,0.46,0.45,0.45],[0.49,0.46,0.43,0.43,0.43],[0.5,0.45,0.43,0.43,0.4]],
[[0.5,0.5,0.5,0.5,0.5],[0.66,0.66,0.66,0.66,0.66],[0.83,0.83,0.83,0.83,0.83],[1.02,1.02,1.02,1.02,1.02],[1.26,1.26,1.26,1.26,1.26],[1.53,1.53,1.53,1.53,1.53]]];
const c_kappa_err = [
[[0.07,0.07,0.07,0.07,0.07],[0.08,0.08,0.08,0.08,0.08],[0.12,0.09,0.09,0.09,0.09],[0.13,0.12,0.1,0.1,0.1],[0.18,0.1,0.08,0.06,0.07],[0.23,0.11,0.1,0.09,0.09]],
[[0.08,0.08,0.08,0.08,0.08],[0.08,0.08,0.08,0.08,0.08],[0.12,0.08,0.08,0.08,0.08],[0.15,0.08,0.08,0.08,0.08],[0.18,0.1,0.08,0.08,0.08],[0.23,0.12,0.1,0.1,0.1]],
[[0.07,0.07,0.07,0.07,0.07],[0.1,0.1,0.1,0.1,0.1],[0.1,0.1,0.1,0.1,0.1],[0.16,0.12,0.13,0.13,0.12],[0.2,0.14,0.14,0.14,0.14],[0.27,0.2,0.16,0.15,0.15]],
[[0.07,0.07,0.07,0.07,0.07],[0.09,0.09,0.09,0.09,0.09],[0.13,0.1,0.1,0.1,0.1],[0.16,0.1,0.1,0.1,0.1],[0.18,0.16,0.12,0.12,0.12],[0.26,0.15,0.13,0.13,0.13]],
[[0.07,0.07,0.07,0.07,0.07],[0.07,0.07,0.07,0.07,0.07],[0.09,0.09,0.09,0.09,0.09],[0.1,0.1,0.1,0.1,0.1],[0.12,0.12,0.12,0.12,0.12],[0.14,0.14,0.14,0.14,0.14]]];
const c_k_est = [
[[3,3,3,3,3],[3,2.89,2.85,2.85,2.85],[3.02,2.85,2.76,2.73,2.73],[3.02,2.79,2.65,2.65,2.61],[3.03,2.79,2.62,2.54,2.5],[3.09,2.75,2.61,2.49,2.42]],
[[3,3,3,3,3],[3,3.19,3.24,3.22,3.23],[3.02,3.28,3.33,3.36,3.33],[3,3.31,3.42,3.44,3.42],[3.04,3.38,3.44,3.45,3.49],[3.01,3.39,3.35,3.52,3.52]],
[[3.04,3.04,3.04,3.04,3.04],[3.04,3.04,3.04,3.04,3.04],[3.05,3.05,3.05,3.04,3.05],[3.02,3.03,3.03,3.03,3.05],[3.08,3.03,3.06,3.04,3.06],[3.09,3.1,3.07,3.08,3.08]],
[[3.02,3.02,3.02,3.02,3.02],[3.02,3.02,3.02,3.02,3.02],[3.02,3.02,3.02,3.02,3.02],[3.02,3,3.03,3,3.04],[3,3,3.01,3.03,3.02],[3.09,2.99,3.05,3.02,3.03]],
[[3.03,3.03,3.03,3.03,3.03],[3,3,3,3,3],[2.94,2.94,2.94,2.94,2.94],[2.91,2.91,2.91,2.91,2.91],[2.78,2.78,2.78,2.78,2.78],[2.69,2.69,2.69,2.69,2.69]]];
const c_k_err = [
[[0.27,0.27,0.27,0.27,0.27],[0.33,0.2,0.2,0.2,0.2],[0.36,0.22,0.25,0.25,0.23],[0.42,0.3,0.25,0.25,0.2],[0.5,0.34,0.26,0.27,0.25],[0.74,0.48,0.34,0.31,0.28]],
[[0.27,0.27,0.27,0.27,0.27],[0.3,0.25,0.25,0.25,0.25],[0.34,0.32,0.35,0.33,0.36],[0.4,0.33,0.4,0.36,0.36],[0.54,0.4,0.44,0.4,0.5],[0.7,0.63,0.45,0.53,0.52]],
[[0.27,0.27,0.27,0.27,0.27],[0.3,0.3,0.3,0.3,0.3],[0.36,0.32,0.32,0.32,0.3],[0.4,0.33,0.36,0.34,0.28],[0.5,0.47,0.35,0.4,0.38],[0.65,0.65,0.55,0.52,0.52]],
[[0.27,0.27,0.27,0.27,0.27],[0.33,0.33,0.33,0.33,0.33],[0.37,0.27,0.33,0.32,0.32],[0.37,0.4,0.42,0.3,0.38],[0.49,0.42,0.42,0.47,0.37],[0.74,0.52,0.48,0.52,0.48]],
[[0.3,0.3,0.3,0.3,0.3],[0.3,0.3,0.3,0.3,0.3],[0.33,0.33,0.33,0.33,0.33],[0.31,0.31,0.31,0.31,0.31],[0.37,0.37,0.37,0.37,0.37],[0.4,0.4,0.4,0.4,0.4]]];
const c_theta_est = [
[[1,1,1,1,1],[1,1.11,1.13,1.13,1.13],[1,1.17,1.23,1.25,1.26],[1,1.23,1.37,1.4,1.41],[1,1.27,1.45,1.55,1.6],[0.97,1.33,1.53,1.7,1.8]],
[[1,1,1,1,1],[0.99,0.92,0.92,0.92,0.92],[0.99,0.89,0.88,0.88,0.88],[0.99,0.87,0.84,0.85,0.84],[1,0.86,0.84,0.84,0.82],[1,0.84,0.84,0.81,0.81]],
[[1.01,1.01,1.01,1.01,1.01],[1.01,1.01,1.01,1.01,1.01],[1.01,1.01,1.01,1.01,1.01],[1.02,1.02,1.02,1.02,1.02],[1.01,1.01,1.01,1.01,1.01],[1.01,1.01,1.01,1.01,1.01]],
[[1,1,1,1,1],[1,1,1,1,1],[1,1,1,1,1],[1,1,1,1,1],[1,1,1,1,1],[0.98,1,0.98,1,0.99]],
[[1,1,1,1,1],[0.96,0.96,0.96,0.96,0.96],[0.93,0.93,0.93,0.93,0.93],[0.9,0.9,0.9,0.9,0.9],[0.87,0.87,0.87,0.87,0.87],[0.83,0.83,0.83,0.83,0.83]]];
const c_theta_err = [
[[0.07,0.07,0.07,0.07,0.07],[0.09,0.07,0.07,0.07,0.07],[0.13,0.11,0.13,0.12,0.13],[0.14,0.15,0.17,0.16,0.11],[0.18,0.16,0.15,0.19,0.2],[0.25,0.24,0.22,0.25,0.24]],
[[0.08,0.08,0.08,0.08,0.08],[0.1,0.07,0.07,0.07,0.07],[0.11,0.08,0.08,0.08,0.08],[0.14,0.09,0.1,0.09,0.09],[0.2,0.11,0.1,0.1,0.1],[0.23,0.15,0.1,0.13,0.1]],
[[0.08,0.08,0.08,0.08,0.08],[0.09,0.09,0.09,0.09,0.09],[0.12,0.12,0.12,0.12,0.12],[0.14,0.14,0.14,0.14,0.14],[0.18,0.16,0.16,0.15,0.14],[0.25,0.23,0.2,0.19,0.19]],
[[0.08,0.08,0.08,0.08,0.08],[0.09,0.09,0.09,0.09,0.09],[0.12,0.12,0.12,0.12,0.12],[0.14,0.14,0.14,0.14,0.14],[0.16,0.15,0.14,0.16,0.13],[0.25,0.2,0.19,0.18,0.19]],
[[0.08,0.08,0.08,0.08,0.08],[0.08,0.08,0.08,0.08,0.08],[0.1,0.1,0.1,0.1,0.1],[0.1,0.1,0.1,0.1,0.1],[0.1,0.1,0.1,0.1,0.1],[0.11,0.11,0.11,0.11,0.11]]];
const c_dist_est = [
[[-20,-20,-20,-20,-20],[-20,-20,-20,-20,-20],[-20,-20,-20,-20,-20],[-19,-19.8,-19.8,-19,-19.3],[-20.4,-18.8,-19.8,-19.3,-18.8],[-19.5,-19.5,-19.5,-18.8,-18.8]],
[[-20.5,-20.5,-20.5,-20.5,-20.5],[-20.3,-20.3,-20.3,-20.3,-20.3],[-20.3,-20.3,-20.3,-20.3,-20.3],[-20,-20,-20,-20,-20],[-20,-20,-19.3,-20,-20],[-20.6,-20,-20,-19.5,-20]],
[[-19.5,-19.5,-19.5,-19.5,-19.5],[-19.5,-19.5,-19.5,-19.5,-19.5],[-20,-19,-19,-18.8,-19.3],[-19.5,-19,-18.8,-18.8,-18.8],[-20,-19.5,-19.5,-19.3,-18.8],[-20,-19.5,-18.8,-18.8,-20]],
[[-20,-20,-20,-20,-20],[-20,-20,-20,-20,-20],[-20,-20,-20,-20,-20],[-20,-20,-20,-20,-20],[-19.5,-20,-20,-20,-20],[-20,-20.4,-19.5,-20,-20]],
[[-20.3,-20.3,-20.3,-20.3,-20.3],[-21.5,-21.5,-21.5,-21.5,-21.5],[-22.7,-22.7,-22.7,-22.7,-22.7],[-25.5,-25.5,-25.5,-25.5,-25.5],[-26.8,-26.8,-26.8,-26.8,-26.8],[-30.3,-30.3,-30.3,-30.3,-30.3]]];
const c_dist_err = [
[[6.2,6.2,6.2,6.2,6.2],[7,6.5,6.5,6.3,6.3],[8.3,6.4,6.3,6.5,6.3],[10.5,7.2,6,6.3,6.2],[12.3,8,6.3,6.5,7.4],[18.5,8,9,6.3,6.5]],
[[6.2,6.2,6.2,6.2,6.2],[7,6.5,6.5,6.5,6.5],[9,6.6,6.3,6.6,6.5],[10.3,7.8,6.3,6.5,6.4],[10.7,8.3,6.8,6,6.4],[16,10,8.5,6.5,6.9]],
[[6.5,6.5,6.5,6.5,6.5],[8,7,6.5,6.5,6.5],[9,7,6.7,6.5,6],[9.2,7.8,7.6,7.2,6.2],[12.8,7.7,6.9,7,6.9],[18.7,9.4,7.4,6.3,6.9]],
[[6.3,6.3,6.3,6.3,6.3],[7,7,7,7,7],[8.5,6,6,5.8,5.4],[10.2,7.2,6.5,6.8,6.4],[14.7,8.7,7.6,6.9,7],[17.4,10.4,7.5,7,6.5]],
[[6.3,6.3,6.3,6.3,6.3],[6.5,6.5,6.5,6.5,6.5],[7,7,7,7,7],[7.7,7.7,7.7,7.7,7.7],[9,9,9,9,9],[11.5,11.5,11.5,11.5,11.5]]];
const c_elev_est = [
[[0.5,0.5,0.5,0.5,0.5],[0.5,0.5,0.5,0.5,0.5],[0.5,0.5,0.5,0.5,0.5],[0.5,0.5,0.5,0.5,0.5],[0.5,0.35,0.5,0.45,0.45],[0.6,0.5,0.5,0.45,0.5]],
[[0.45,0.45,0.45,0.45,0.45],[0.45,0.45,0.45,0.45,0.45],[0.5,0.4,0.4,0.4,0.5],[0.35,0.5,0.5,0.5,0.4],[0.5,0.35,0.5,0.4,0.45],[0.25,0.35,0.5,0.35,0.35]],
[[0.55,0.55,0.55,0.55,0.55],[0.6,0.6,0.6,0.6,0.6],[0.6,0.6,0.6,0.6,0.6],[0.5,0.6,0.7,0.6,0.7],[0.45,0.6,0.6,0.6,0.6],[0.5,0.6,0.6,0.6,0.6]],
[[0.45,0.45,0.45,0.45,0.45],[0.45,0.45,0.45,0.45,0.45],[0.4,0.5,0.5,0.5,0.5],[0.5,0.5,0.4,0.4,0.5],[0.35,0.5,0.5,0.5,0.5],[0.1,0.5,0.5,0.5,0.5]],
[[0.5,0.5,0.5,0.5,0.5],[0.5,0.5,0.5,0.5,0.5],[0.5,0.5,0.5,0.5,0.5],[0.5,0.5,0.5,0.5,0.5],[0.45,0.45,0.45,0.45,0.45],[0.4,0.4,0.4,0.4,0.4]]];
const c_elev_err = [
[[1.3,1.3,1.3,1.3,1.3],[1.45,1.3,1.3,1.3,1.3],[1.7,1.2,1.2,1.25,1.1],[2.6,1.6,1.6,1.5,1.2],[2.6,1.8,1.1,1.35,1.5],[4.3,2.3,1.9,1.6,1.55]],
[[1.3,1.3,1.3,1.3,1.3],[1.5,1.3,1.3,1.3,1.3],[2,1.5,1.25,1.4,1.4],[2.2,1.6,1.5,1.5,1.3],[2.8,1.8,1.7,1.5,1.4],[4.3,2.2,1.85,1.6,1.5]],
[[1.3,1.3,1.3,1.3,1.3],[1.6,1.4,1.35,1.3,1.3],[1.6,1.5,1.4,1.5,1.1],[2,1.6,1.35,1.2,1.45],[2.8,2,1.5,1.6,1.5],[3.2,2.4,1.7,1.9,1.85]],
[[1.3,1.3,1.3,1.3,1.3],[1.4,1.3,1.3,1.3,1.3],[1.75,1.2,1.3,1.3,1.3],[2,1.85,1.3,1.4,1.5],[2.55,2,1.55,1.55,1.55],[3.4,2.1,1.8,1.8,1.55]],
[[1.3,1.3,1.3,1.3,1.3],[1.45,1.45,1.45,1.45,1.45],[1.4,1.4,1.4,1.4,1.4],[1.4,1.4,1.4,1.4,1.4],[1.6,1.6,1.6,1.6,1.6],[1.6,1.6,1.6,1.6,1.6]]];
const c_forest_est = [
[[-1,-1,-1,-1,-1],[-1,-1,-1,-1,-1],[-1,-1,-1,-1,-1],[-1,-1,-1,-1,-1],[-1.05,-0.98,-0.98,-0.98,-0.98],[-0.98,-1,-1.03,-0.98,-0.98]],
[[-1.02,-1.02,-1.02,-1.02,-1.02],[-1.02,-1.02,-1.02,-1.02,-1.02],[-1,-1,-1,-1,-1],[-1,-1,-1,-1,-1],[-0.98,-0.98,-0.98,-0.98,-0.98],[-1,-1,-1,-1,-1.03]],
[[-0.98,-0.98,-0.98,-0.98,-0.98],[-0.98,-0.98,-0.98,-0.98,-0.98],[-0.98,-0.98,-0.98,-0.98,-0.98],[-0.98,-0.98,-0.98,-0.98,-0.98],[-0.98,-0.98,-0.98,-0.98,-0.98],[-0.98,-0.98,-0.98,-0.98,-0.98]],
[[-1,-1,-1,-1,-1],[-1,-1,-1,-1,-1],[-1,-1,-1,-1,-1],[-1,-1,-1,-1,-1],[-1,-1,-1,-1,-1],[-1,-1,-1,-1,-1]],
[[-1,-1,-1,-1,-1],[-0.97,-0.97,-0.97,-0.97,-0.97],[-0.89,-0.89,-0.89,-0.89,-0.89],[-0.85,-0.85,-0.85,-0.85,-0.85],[-0.78,-0.78,-0.78,-0.78,-0.78],[-0.72,-0.72,-0.72,-0.72,-0.72]]];
const c_forest_err = [
[[0.27,0.27,0.27,0.27,0.27],[0.33,0.4,0.35,0.3,0.33],[0.4,0.3,0.32,0.3,0.35],[0.57,0.4,0.33,0.36,0.36],[0.68,0.47,0.44,0.42,0.38],[0.75,0.54,0.47,0.45,0.47]],
[[0.27,0.27,0.27,0.27,0.27],[0.33,0.3,0.38,0.35,0.3],[0.41,0.38,0.37,0.43,0.39],[0.48,0.47,0.34,0.35,0.37],[0.63,0.45,0.4,0.42,0.37],[0.8,0.5,0.45,0.47,0.53]],
[[0.28,0.28,0.28,0.28,0.28],[0.35,0.33,0.3,0.3,0.3],[0.39,0.33,0.32,0.35,0.27],[0.63,0.32,0.34,0.31,0.4],[0.8,0.5,0.42,0.48,0.48],[0.9,0.6,0.44,0.5,0.45]],
[[0.27,0.27,0.27,0.27,0.27],[0.5,0.33,0.33,0.33,0.3],[0.43,0.35,0.32,0.3,0.32],[0.6,0.53,0.55,0.46,0.4],[0.74,0.46,0.4,0.4,0.33],[1,0.57,0.45,0.45,0.3]],
[[0.27,0.27,0.27,0.27,0.27],[0.27,0.27,0.27,0.27,0.27],[0.37,0.37,0.37,0.37,0.37],[0.38,0.38,0.38,0.38,0.38],[0.39,0.39,0.39,0.39,0.39],[0.38,0.38,0.38,0.38,0.38]]];

// ================= assemble lookup tables =================
const estimates = [
  [a_kappa_est, a_k_est, a_theta_est, a_dist_est, a_elev_est, a_forest_est],
  [b_kappa_est, b_k_est, b_theta_est, b_dist_est, b_elev_est, b_forest_est],
  [c_kappa_est, c_k_est, c_theta_est, c_dist_est, c_elev_est, c_forest_est]];
const errors = [
  [a_kappa_err, a_k_err, a_theta_err, a_dist_err, a_elev_err, a_forest_err],
  [b_kappa_err, b_k_err, b_theta_err, b_dist_err, b_elev_err, b_forest_err],
  [c_kappa_err, c_k_err, c_theta_err, c_dist_err, c_elev_err, c_forest_err]];
const yLimits = [yLimits_a, yLimits_b, yLimits_c];
const yTicks = [yTicks_a, yTicks_b, yTicks_c];
const yTickLabels = [yTickLabels_a, yTickLabels_b, yTickLabels_c];

// ================= layout (reference pixel space, scaled by 0.875) =================
const S = 0.875, W = 3900, H = 4680;
const FONT = "'Liberation Sans', Arial, Helvetica, sans-serif";
const subTop = [0, 1521, 3042];
const colX0 = 195, colStep = 600.9, colW = 574;
const rowTop0 = 96, rowStep = 219.5, rowH = 194;
const stripY = 25, stripH = 66;
const rstripX = 3777.5, rstripW = 96;
const dodge = [-0.32, -0.16, 0, 0.16, 0.32];
const xDomain = [0.38, 5.62];
const colX = j => colX0 + j * colStep;
const rowY = r => rowTop0 + r * rowStep;

const hasDiamond2 = !!d3.symbolDiamond2;
const symTypes = [d3.symbolSquare, d3.symbolTriangle, d3.symbolTriangle, d3.symbolCircle, hasDiamond2 ? d3.symbolDiamond2 : d3.symbolSquare];
const symSizes = [100, 72, 72, 82, 58];
const symRot = [0, 0, 180, 0, hasDiamond2 ? 0 : 45];
const symFill = ["#3d3440", approachColors[1], approachColors[2], approachColors[3], approachColors[4]];
const symbolPath = k => d3.symbol().type(symTypes[k]).size(symSizes[k])();

const svg = d3.select("#chart").attr("width", 3413).attr("height", 4096);
const root = svg.append("g").attr("transform", `scale(${S})`);
root.append("rect").attr("width", W).attr("height", H).attr("fill", "#ffffff");

const x = d3.scaleLinear().domain(xDomain).range([0, colW]);

panelLabels.forEach((pl, p) => {
  const gP = root.append("g").attr("transform", `translate(0,${subTop[p]})`);

  // panel tag
  gP.append("text").attr("x", 16).attr("y", 65.5).text(pl)
    .attr("font-family", FONT).attr("font-weight", "bold").attr("font-size", 58).attr("fill", "#000");

  // top strips
  missingLevels.forEach((m, j) => {
    gP.append("rect").attr("x", colX(j)).attr("y", stripY).attr("width", colW).attr("height", stripH).attr("fill", "#f2f2f2");
    gP.append("text").attr("x", colX(j) + colW / 2).attr("y", stripY + stripH / 2 + 13)
      .attr("text-anchor", "middle").attr("font-family", FONT).attr("font-size", 36.7).attr("fill", "#1a1a1a").text(m);
  });

  // right strips (rotated labels with hat)
  paramSymbols.forEach((sym, r) => {
    gP.append("rect").attr("x", rstripX).attr("y", rowY(r)).attr("width", rstripW).attr("height", rowH).attr("fill", "#f2f2f2");
    const lab = gP.append("g").attr("transform", `translate(3807,${rowY(r) + rowH / 2}) rotate(90)`);
    const t = lab.append("text").attr("font-family", FONT).attr("fill", "#1a1a1a");
    const mainSpan = t.append("tspan").attr("font-size", 35).text(sym);
    if (paramSubscripts[r]) t.append("tspan").attr("font-size", 26).attr("dy", 8).text(paramSubscripts[r]);
    const len = t.node().getComputedTextLength();
    const cw = mainSpan.node().getComputedTextLength();
    t.attr("x", -len / 2);
    const top = sym === "κ" ? 18 : 25;
    const hx = -len / 2 + cw / 2;
    lab.append("path")
      .attr("d", `M${hx - 5.5},${-(top + 2)} L${hx},${-(top + 17)} L${hx + 5.5},${-(top + 2)}`)
      .attr("fill", "none").attr("stroke", "#1a1a1a").attr("stroke-width", 2.8).attr("stroke-linejoin", "miter");
  });

  // facets
  paramSymbols.forEach((sym, r) => {
    const y = d3.scaleLinear().domain(yLimits[p][r]).range([rowH, 0]);
    missingLevels.forEach((m, j) => {
      const g = gP.append("g").attr("transform", `translate(${colX(j)},${rowY(r)})`);
      // grid
      g.selectAll("line.hg").data(yTicks[p][r]).join("line").attr("class", "hg")
        .attr("x1", 0).attr("x2", colW).attr("y1", d => y(d)).attr("y2", d => y(d))
        .attr("stroke", "#ebebeb").attr("stroke-width", 4);
      g.selectAll("line.vg").data(forgivenessLevels).join("line").attr("class", "vg")
        .attr("x1", d => x(d)).attr("x2", d => x(d)).attr("y1", 0).attr("y2", rowH)
        .attr("stroke", "#ebebeb").attr("stroke-width", 4.2);
      // true value
      g.append("line").attr("x1", 0).attr("x2", colW).attr("y1", y(trueValues[r])).attr("y2", y(trueValues[r]))
        .attr("stroke", "#000").attr("stroke-width", 3.4);
      // marks
      const pts = [];
      approaches.forEach((a, k) => {
        forgivenessLevels.forEach((f, i) => {
          pts.push({ k, f, est: estimates[p][r][k][j][i], err: errors[p][r][k][j][i] });
        });
      });
      g.selectAll("line.eb").data(pts).join("line").attr("class", "eb")
        .attr("x1", d => x(d.f + dodge[d.k])).attr("x2", d => x(d.f + dodge[d.k]))
        .attr("y1", d => y(d.est - d.err)).attr("y2", d => y(d.est + d.err))
        .attr("stroke", d => approachColors[d.k]).attr("stroke-width", 4.8);
      g.selectAll("path.pt").data(pts).join("path").attr("class", "pt")
        .attr("d", d => symbolPath(d.k))
        .attr("transform", d => `translate(${x(d.f + dodge[d.k])},${y(d.est)}) rotate(${symRot[d.k]})`)
        .attr("fill", d => symFill[d.k]);

      // y axis
      if (j === 0) {
        const ax = d3.axisLeft(y).tickValues(yTicks[p][r]).tickFormat((d, i) => yTickLabels[p][r][i]).tickSize(0).tickPadding(23);
        const ga = g.append("g").call(ax);
        ga.select(".domain").remove();
        ga.attr("font-family", FONT).attr("font-size", 36.7);
        ga.selectAll("text").attr("fill", "#4d4d4d");
      }
      // x axis
      if (r === paramSymbols.length - 1) {
        const axb = d3.axisBottom(x).tickValues(forgivenessLevels).tickFormat(d3.format("d")).tickSize(0).tickPadding(22.5);
        const gb = g.append("g").attr("transform", `translate(0,${rowH})`).call(axb);
        gb.select(".domain").remove();
        gb.attr("font-family", FONT).attr("font-size", 36.7);
        gb.selectAll("text").attr("fill", "#4d4d4d");
      }
    });
  });

  // axis titles
  gP.append("text").attr("x", (colX0 + colX(5) + colW) / 2).attr("y", 1485).attr("text-anchor", "middle")
    .attr("font-family", FONT).attr("font-size", 45.8).attr("fill", "#000").text("Forgiveness");
  gP.append("text").attr("transform", `translate(59,${rowTop0 + (5 * rowStep + rowH) / 2}) rotate(-90)`).attr("text-anchor", "middle")
    .attr("font-family", FONT).attr("font-size", 45.8).attr("fill", "#000").text("Estimate");
});

// legend
const legY = 4620;
const lg = root.append("g");
const title = lg.append("text").attr("x", 1142).attr("y", legY + 16).attr("font-family", FONT).attr("font-size", 45.8).attr("fill", "#000").text("Approach");
let cursor = 1142 + title.node().getComputedTextLength() + 62;
approaches.forEach((a, k) => {
  lg.append("line").attr("x1", cursor - 30).attr("x2", cursor + 30).attr("y1", legY).attr("y2", legY)
    .attr("stroke", approachColors[k]).attr("stroke-width", 5.5);
  lg.append("path").attr("d", symbolPath(k))
    .attr("transform", `translate(${cursor},${legY}) rotate(${symRot[k]})`)
    .attr("fill", symFill[k]);
  const tx = lg.append("text").attr("x", cursor + 58.5).attr("y", legY + 13).attr("font-family", FONT)
    .attr("font-size", 36.7).attr("fill", "#000").text(a);
  cursor = cursor + 58.5 + tx.node().getComputedTextLength() + 64.5;
});
</script>
</body>
</html>
